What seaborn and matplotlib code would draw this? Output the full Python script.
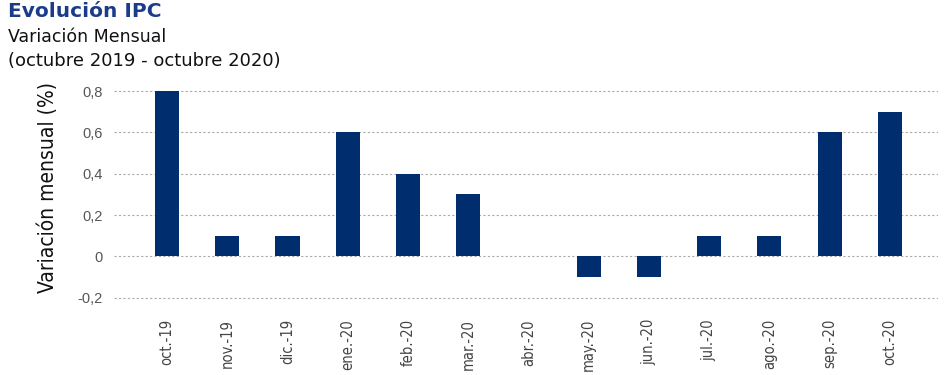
import numpy as np
import pandas as pd
import matplotlib
matplotlib.use("Agg")
import matplotlib.pyplot as plt
import seaborn as sns

meses = ["oct.-19", "nov.-19", "dic.-19", "ene.-20", "feb.-20", "mar.-20", "abr.-20",
         "may.-20", "jun.-20", "jul.-20", "ago.-20", "sep.-20", "oct.-20"]
variacion = [0.8, 0.1, 0.1, 0.6, 0.4, 0.3, 0.0, -0.1, -0.1, 0.1, 0.1, 0.6, 0.7]
yticks = [-0.2, 0.0, 0.2, 0.4, 0.6, 0.8]
ytick_labels = ["-0,2", "0", "0,2", "0,4", "0,6", "0,8"]

df = pd.DataFrame({"mes": meses, "var": variacion})

sns.set_style("white")
plt.rcParams['font.family'] = ['DejaVu Sans']

fig = plt.figure(figsize=(9.47, 3.75), dpi=100)
ax = fig.add_axes([114 / 947, 1 - 308 / 375, (938 - 114) / 947, (308 - 85) / 375])

sns.barplot(data=df, x="mes", y="var", color="#002D6E", width=0.4, saturation=1,
            linewidth=0, ax=ax)

ax.set_xlim(-0.88, 12.8)
ax.set_ylim(-0.25, 0.83)
ax.set_yticks(yticks)
ax.set_yticklabels(ytick_labels, family="Liberation Sans", fontsize=10.5, color="#555555")
ax.yaxis.grid(True, linestyle=(0, (2, 2)), color="#aaaaaa", linewidth=0.8)
ax.set_axisbelow(True)
for s in ax.spines.values():
    s.set_visible(False)

ax.tick_params(axis="y", length=0, pad=8)
ax.tick_params(axis="x", length=2, color="#888888", pad=6)
plt.setp(ax.get_xticklabels(), rotation=90, family="DejaVu Sans", stretch="condensed",
         fontsize=10.5, color="#444444")
ax.set_xlabel("")
ax.set_ylabel("Variación mensual (%)", family="DejaVu Sans", stretch="condensed",
              fontsize=15, color="#111111", labelpad=6)
ax.yaxis.set_label_coords(-56 / 824, 0.54)

fig.text(8 / 947, 1 - 17 / 375, "Evolución IPC", fontsize=14.5, weight="bold",
         color="#1B3B8B", va="baseline")
fig.text(8 / 947, 1 - 42 / 375, "Variación Mensual", fontsize=12.5, color="#111111",
         va="baseline")
fig.text(8 / 947, 1 - 66 / 375, "(octubre 2019 - octubre 2020)", fontsize=13,
         color="#111111", va="baseline")

fig.savefig("out.png", dpi=100)
